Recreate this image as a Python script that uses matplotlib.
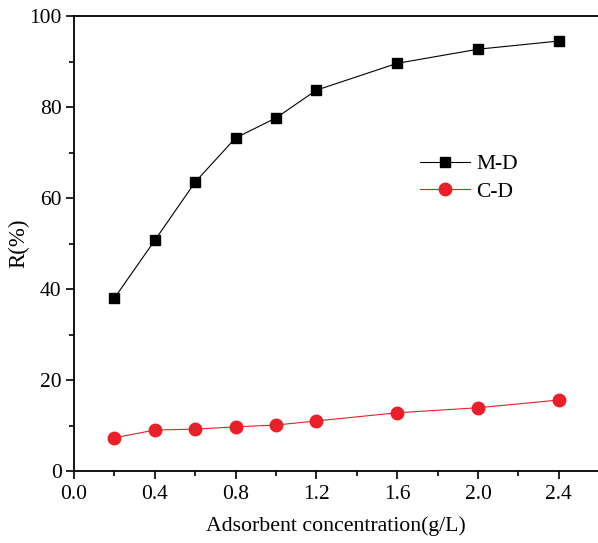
import numpy as np
import matplotlib.pyplot as plt
from matplotlib.ticker import MultipleLocator

plt.rcParams['font.family'] = ['Liberation Serif', 'DejaVu Serif']

conc = [0.2, 0.4, 0.6, 0.8, 1.0, 1.2, 1.6, 2.0, 2.4]
md = [38.0, 50.7, 63.5, 73.2, 77.6, 83.7, 89.6, 92.7, 94.5]
cd = [7.3, 9.0, 9.2, 9.7, 10.1, 11.0, 12.8, 13.9, 15.6]
xticks = [0.0, 0.4, 0.8, 1.2, 1.6, 2.0, 2.4]
xticklabels = ["0.0", "0.4", "0.8", "1.2", "1.6", "2.0", "2.4"]

W, H = 598, 543
fig = plt.figure(figsize=(W / 100, H / 100), dpi=100)
ax = fig.add_axes([74 / W, (H - 471) / H, (W - 74) / W, 455 / H])

ax.plot(conc, md, "k-", lw=0.8, marker="s", ms=7.5, mfc="black", mec="black", label="M-D")
ax.plot(conc, cd, "-", color="#e8202a", lw=0.8, marker="o", ms=9, mfc="#e8202a", mec="#e8202a", label="C-D")

ax.set_xlim(0, (W - 74) / 202)
ax.set_ylim(0, 100)
ax.set_xticks(xticks)
ax.set_xticklabels(xticklabels)
ax.xaxis.set_minor_locator(MultipleLocator(0.2))
ax.yaxis.set_major_locator(MultipleLocator(20))
ax.yaxis.set_minor_locator(MultipleLocator(10))
ax.tick_params(which="major", direction="out", length=6, width=1.2, labelsize=15.5, pad=4)
ax.tick_params(axis="y", which="major", pad=3)
ax.tick_params(which="minor", direction="out", length=3.5, width=1.2)

ax.spines["right"].set_visible(False)
for s in ["left", "top", "bottom"]:
    ax.spines[s].set_linewidth(1.3)

ax.set_xlabel("Adsorbent concentration(g/L)", fontsize=15.7, labelpad=9)
ax.set_ylabel("R(%)", fontsize=16.5)
ax.yaxis.set_label_coords((29 - 74) / 524, 0.5)

ax.legend(loc="upper left", bbox_to_anchor=(0.64, 0.72), frameon=False, fontsize=15.5,
          handlelength=2.3, handletextpad=0.3, labelspacing=0.35, borderpad=0)

fig.savefig("out.png", dpi=100)
